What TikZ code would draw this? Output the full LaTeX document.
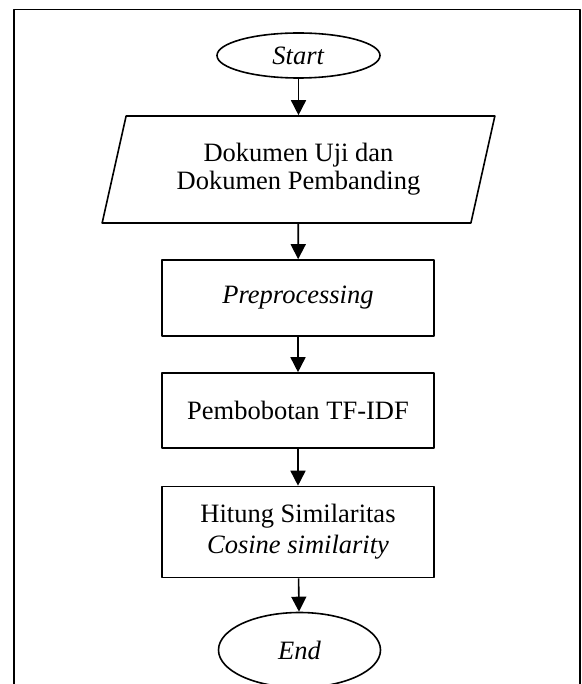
\documentclass[tikz,border=0pt]{standalone}
\usepackage{fontspec}
\setmainfont{Liberation Serif}
\usetikzlibrary{shapes.geometric,arrows.meta}
\begin{document}
\begin{tikzpicture}[line join = round,>={Triangle[width=15pt,length=15pt]},x = 1pt,y = -1pt,font=\fontsize{26.5}{28}\selectfont,line width=1.6pt,
    elips/.style={draw,ellipse,inner sep=0pt},
    kotak/.style={draw,rectangle,minimum width=272pt,inner sep=0pt,align=center},
    jajar/.style={draw,trapezium,trapezium left angle=72,trapezium right angle=108,trapezium stretches=true,minimum width=393pt,minimum height=107pt,inner sep=0pt,align=center}]
            \useasboundingbox (0,0) rectangle (581,684);
            %Vẽ khung
            \draw (14,690)--(14,9.5)--(580,9.5)--(580,690);
            %Vẽ các khối
            \node[elips,minimum width=163pt,minimum height=45pt] (start) at (298.5,55.5) {\textit{Start}};
            \node[jajar] (input) at (298.5,169.5) {Dokumen Uji dan\\Dokumen Pembanding};
            \node[kotak,minimum height=76pt] (prep) at (298,298) {\textit{Preprocessing}};
            \node[kotak,minimum height=75pt] (bobot) at (298,410.5) {Pembobotan TF-IDF};
            \node[kotak,minimum height=91pt,font=\fontsize{26.5}{31}\selectfont] (hitung) at (298,532) {Hitung Similaritas\\\textit{Cosine similarity}};
            \node[elips,minimum width=162pt,minimum height=75pt] (end) at (299.5,650) {\textit{End}};
            %Vẽ mũi tên
            \foreach \a/\b in {start/input,input/prep,prep/bobot,bobot/hitung,hitung/end} \draw[->] (\a)--(\b);
        \end{tikzpicture}
\end{document}
